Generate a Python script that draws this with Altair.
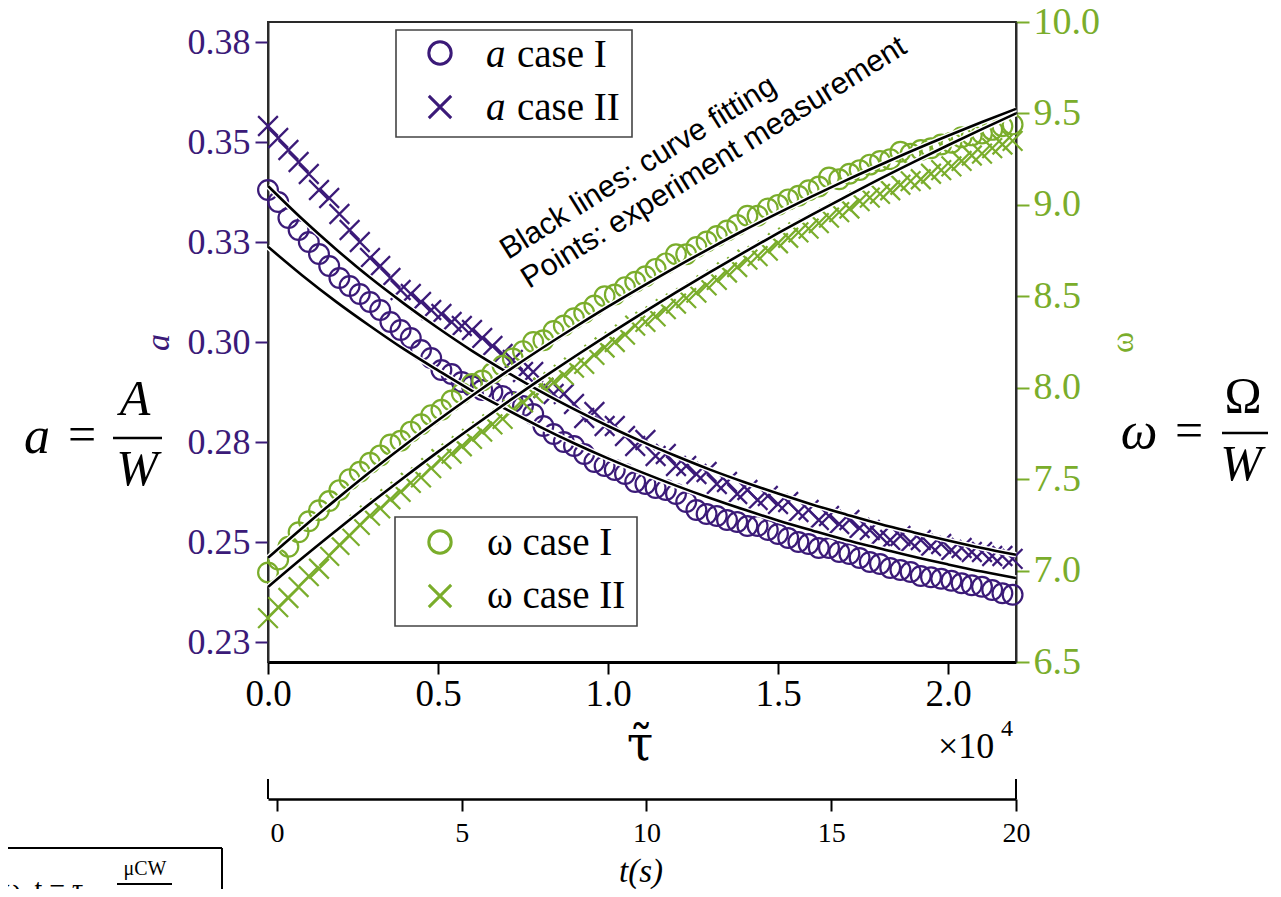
import altair as alt
import pandas as pd

PURPLE = "#3b1a78"
GREEN = "#7aad2b"
SERIF = "Liberation Serif"
SANS = "Liberation Sans"
CROSS = "M-1,-1L1,1M-1,1L1,-1"

# ---------------- data ----------------
TAU = [0, 300, 600, 900, 1200, 1500, 1800, 2100, 2400, 2700,
       3000, 3300, 3600, 3900, 4200, 4500, 4800, 5100, 5400, 5700,
       6000, 6300, 6600, 6900, 7200, 7500, 7800, 8100, 8400, 8700,
       9000, 9300, 9600, 9900, 10200, 10500, 10800, 11100, 11400, 11700,
       12000, 12300, 12600, 12900, 13200, 13500, 13800, 14100, 14400, 14700,
       15000, 15300, 15600, 15900, 16200, 16500, 16800, 17100, 17400, 17700,
       18000, 18300, 18600, 18900, 19200, 19500, 19800, 20100, 20400, 20700,
       21000, 21300, 21600, 21900]

A_CASE_I = [0.338, 0.335, 0.331, 0.328, 0.325, 0.322, 0.319, 0.316, 0.314, 0.312,
            0.310, 0.308, 0.305, 0.303, 0.301, 0.298, 0.296, 0.293, 0.292, 0.290,
            0.289, 0.288, 0.2875, 0.2865, 0.285, 0.284, 0.282, 0.279, 0.277, 0.275,
            0.274, 0.272, 0.270, 0.269, 0.268, 0.267, 0.265, 0.2645, 0.2635, 0.263,
            0.262, 0.260, 0.258, 0.257, 0.2565, 0.2555, 0.255, 0.254, 0.254, 0.253,
            0.252, 0.251, 0.250, 0.2495, 0.2485, 0.2485, 0.2475, 0.247, 0.246, 0.245,
            0.2445, 0.2435, 0.243, 0.2425, 0.2415, 0.2412, 0.2408, 0.2403, 0.2397, 0.2392,
            0.2388, 0.238, 0.2372, 0.2368]

A_CASE_II = [0.354, 0.351, 0.348, 0.345, 0.342, 0.338, 0.336, 0.332, 0.328, 0.325,
             0.321, 0.319, 0.316, 0.313, 0.312, 0.310, 0.308, 0.307, 0.305, 0.304,
             0.303, 0.301, 0.299, 0.297, 0.2955, 0.2925, 0.2925, 0.2885, 0.287, 0.287,
             0.2845, 0.281, 0.2825, 0.279, 0.279, 0.2765, 0.274, 0.2755, 0.2715, 0.272,
             0.269, 0.269, 0.267, 0.2675, 0.2645, 0.265, 0.262, 0.263, 0.2605, 0.2615,
             0.2595, 0.260, 0.2575, 0.258, 0.2555, 0.2565, 0.2545, 0.2555, 0.2535, 0.253,
             0.2515, 0.2505, 0.2515, 0.250, 0.2505, 0.249, 0.2495, 0.248, 0.2485, 0.2475,
             0.2475, 0.2465, 0.2465, 0.2458]

W_CASE_I = [6.99, 7.06, 7.13, 7.21, 7.27, 7.33, 7.38, 7.44, 7.50, 7.54,
            7.59, 7.63, 7.69, 7.71, 7.76, 7.80, 7.85, 7.88, 7.93, 7.97,
            8.02, 8.04, 8.08, 8.12, 8.16, 8.20, 8.25, 8.26, 8.31, 8.34,
            8.38, 8.41, 8.45, 8.50, 8.51, 8.55, 8.58, 8.61, 8.65, 8.68,
            8.73, 8.73, 8.77, 8.80, 8.83, 8.86, 8.89, 8.94, 8.94, 8.98,
            9.00, 9.03, 9.05, 9.08, 9.10, 9.15, 9.14, 9.17, 9.19, 9.22,
            9.24, 9.25, 9.29, 9.28, 9.30, 9.31, 9.33, 9.34, 9.37, 9.38,
            9.39, 9.41, 9.43, 9.44]

W_CASE_II = [6.74, 6.80, 6.85, 6.91, 6.97, 7.01, 7.08, 7.14, 7.19, 7.25,
             7.30, 7.34, 7.39, 7.43, 7.48, 7.51, 7.56, 7.61, 7.64, 7.68,
             7.72, 7.76, 7.80, 7.83, 7.88, 7.92, 7.97, 8.00, 8.03, 8.07,
             8.11, 8.13, 8.18, 8.22, 8.25, 8.29, 8.34, 8.36, 8.39, 8.43,
             8.46, 8.49, 8.52, 8.56, 8.59, 8.63, 8.66, 8.70, 8.72, 8.75,
             8.79, 8.82, 8.85, 8.87, 8.90, 8.93, 8.96, 8.98, 9.02, 9.04,
             9.06, 9.08, 9.11, 9.13, 9.14, 9.17, 9.19, 9.21, 9.24, 9.27,
             9.28, 9.31, 9.33, 9.35]

FIT_TAU = [0, 1000, 2000, 3000, 4000, 5000, 6000, 7000, 8000, 9000, 10000, 11000,
           12000, 13000, 14000, 15000, 16000, 17000, 18000, 19000, 20000, 21000, 22000]
A_FIT_I = [0.3238, 0.3167, 0.3101, 0.3040, 0.2982, 0.2929, 0.2878, 0.2832, 0.2788, 0.2747,
           0.2709, 0.2674, 0.2641, 0.2610, 0.2581, 0.2554, 0.2529, 0.2505, 0.2484, 0.2463,
           0.2444, 0.2426, 0.2410]
A_FIT_II = [0.3390, 0.3308, 0.3232, 0.3161, 0.3096, 0.3035, 0.2978, 0.2926, 0.2877, 0.2832,
            0.2790, 0.2751, 0.2715, 0.2681, 0.2650, 0.2621, 0.2594, 0.2569, 0.2545, 0.2524,
            0.2504, 0.2485, 0.2468]
W_FIT_I = [7.070, 7.232, 7.388, 7.539, 7.683, 7.822, 7.956, 8.085, 8.209, 8.328,
           8.443, 8.553, 8.660, 8.762, 8.861, 8.955, 9.046, 9.134, 9.218, 9.300,
           9.378, 9.453, 9.525]
W_FIT_II = [6.910, 7.067, 7.218, 7.366, 7.509, 7.649, 7.784, 7.916, 8.044, 8.168,
            8.289, 8.407, 8.521, 8.632, 8.740, 8.845, 8.946, 9.045, 9.142, 9.235,
            9.326, 9.414, 9.500]

X_TICKS = [0, 5000, 10000, 15000, 20000]
A_TICKS = [0.225, 0.25, 0.275, 0.30, 0.325, 0.35, 0.375]
W_TICKS = [6.5, 7.0, 7.5, 8.0, 8.5, 9.0, 9.5, 10.0]
T_TICKS = [0, 5, 10, 15, 20]

pts = pd.DataFrame({"tau": TAU, "a1": A_CASE_I, "a2": A_CASE_II,
                    "w1": W_CASE_I, "w2": W_CASE_II})
fits = pd.DataFrame({"tau": FIT_TAU, "a1": A_FIT_I, "a2": A_FIT_II,
                     "w1": W_FIT_I, "w2": W_FIT_II})
tdf = pd.DataFrame({"t": T_TICKS})
ONE = pd.DataFrame({"k": [0]})

X_SCALE = alt.Scale(domain=[0, 22000], nice=False, zero=False)
A_SCALE = alt.Scale(domain=[0.22, 0.38], nice=False, zero=False)
W_SCALE = alt.Scale(domain=[6.5, 10.0], nice=False, zero=False)
T_SCALE = alt.Scale(domain=[-0.243, 20], nice=False, zero=False)

x_axis = alt.Axis(values=X_TICKS, labelExpr="format(datum.value / 10000, '.1f')",
                  title=None, orient="bottom", tickSize=12, tickWidth=2, tickColor="black",
                  domainColor="black", domainWidth=3, labelFont=SERIF, labelFontSize=37,
                  labelColor="black", labelPadding=2, grid=False, labelFlush=False,
                  labelOverlap=False)
a_axis = alt.Axis(values=A_TICKS, format=".2f", orient="left", tickSize=13, tickWidth=2,
                  tickColor=PURPLE, domainColor="#2a2a2a", domainWidth=2,
                  labelFont=SERIF, labelFontSize=36, labelColor=PURPLE, labelPadding=5,
                  title="a", titleColor=PURPLE, titleFont=SERIF, titleFontStyle="italic",
                  titleFontSize=34, titleFontWeight="normal", titlePadding=12,
                  grid=False, labelFlush=False, labelOverlap=False)
w_axis = alt.Axis(values=W_TICKS, format=".1f", orient="right", tickSize=13, tickWidth=2,
                  tickColor=GREEN, domainColor="#2a2a2a", domainWidth=2,
                  labelFont=SERIF, labelFontSize=38, labelColor=GREEN, labelPadding=4,
                  title="ω", titleColor=GREEN, titleFont=SERIF, titleFontSize=32,
                  titleFontWeight="normal", titlePadding=40, titleAngle=270,
                  grid=False, labelFlush=False, labelOverlap=False)
t_axis = alt.Axis(values=T_TICKS, format="d", orient="bottom", offset=137, tickSize=12,
                  tickWidth=2, tickColor="black", domainColor="black", domainWidth=2.5,
                  labelFont=SERIF, labelFontSize=28, labelColor="black", labelPadding=8,
                  title=None, grid=False, labelFlush=False, labelOverlap=False)


def xenc(axis=None):
    return alt.X("tau:Q", scale=X_SCALE, axis=axis)


def points(field, scale, axis, shape, color):
    return alt.Chart(pts).mark_point(
        shape=shape, filled=False, size=390, strokeWidth=2.2, color=color, opacity=1
    ).encode(x=xenc(x_axis if field == "a1" else None),
             y=alt.Y(f"{field}:Q", scale=scale, axis=axis))


def fitline(field, scale, color, width):
    return alt.Chart(fits).mark_line(color=color, strokeWidth=width, interpolate="monotone").encode(
        x=xenc(), y=alt.Y(f"{field}:Q", scale=scale, axis=None))


def text(t, x, y, size, font=SERIF, style="normal", align="left", angle=0, color="black"):
    kw = dict(text=t, font=font, fontSize=size, fontStyle=style, align=align,
              baseline="alphabetic", color=color)
    if angle:
        kw["angle"] = angle
    return alt.Chart(ONE).mark_text(**kw).encode(x=alt.value(x), y=alt.value(y))


def hrule(x1, x2, y, w=2, color="black"):
    return alt.Chart(ONE).mark_rule(color=color, strokeWidth=w).encode(
        x=alt.value(x1), x2=alt.value(x2), y=alt.value(y))


def vrule(x, y1, y2, w=2, color="black"):
    return alt.Chart(ONE).mark_rule(color=color, strokeWidth=w).encode(
        x=alt.value(x), y=alt.value(y1), y2=alt.value(y2))


def box(x1, x2, y1, y2):
    return alt.Chart(ONE).mark_rect(fill="white", stroke="#444", strokeWidth=1.6).encode(
        x=alt.value(x1), x2=alt.value(x2), y=alt.value(y1), y2=alt.value(y2))


def marker(x, y, shape, color):
    return alt.Chart(ONE).mark_point(shape=shape, filled=False, size=500, strokeWidth=3,
                                     color=color, opacity=1).encode(
        x=alt.value(x), y=alt.value(y))


layers = [
    points("a1", A_SCALE, a_axis, "circle", PURPLE),
    points("a2", A_SCALE, None, CROSS, PURPLE),
    points("w1", W_SCALE, w_axis, "circle", GREEN),
    points("w2", W_SCALE, None, CROSS, GREEN),
]
for f, s in [("a1", A_SCALE), ("a2", A_SCALE), ("w1", W_SCALE), ("w2", W_SCALE)]:
    layers.append(fitline(f, s, "white", 5.5))
    layers.append(fitline(f, s, "black", 2.6))

# second (time) axis
layers.append(alt.Chart(tdf).mark_point(opacity=0).encode(
    x=alt.X("t:Q", scale=T_SCALE, axis=t_axis), y=alt.value(0)))
layers += [vrule(0, 757, 777, 2), vrule(748, 757, 777, 2)]

# legends
layers += [
    box(128, 364, 8, 115),
    marker(172, 31, "circle", PURPLE), marker(172, 85, CROSS, PURPLE),
    text("a", 218, 45, 39, style="italic"), text("case I", 249, 45, 39),
    text("a", 218, 98, 39, style="italic"), text("case II", 249, 98, 39),
    box(127, 369, 495, 604),
    marker(172, 520, "circle", GREEN), marker(172, 574, CROSS, GREEN),
    text("ω case I", 219, 533, 39), text("ω case II", 219, 586, 39),
]

# annotation
layers += [
    text("Black lines: curve fitting", 240, 238, 30.5, font=SANS, angle=328),
    text("Points: experiment measurement", 261, 267, 30.5, font=SANS, angle=328),
]

# axis captions
layers += [
    text("τ̃", 372, 738, 48, font="DejaVu Serif", align="center"),
    text("×10", 670, 736, 36),
    text("4", 733, 714, 24),
    text("t(s)", 373, 860, 33, style="italic", align="center"),
]

# side formulas
layers += [
    text("a", -231, 431, 52, style="italic", align="center"),
    text("=", -186, 429, 50, align="center"),
    text("A", -133, 393, 50, style="italic", align="center"),
    hrule(-155, -106, 416, 2.5),
    text("W", -131, 463, 50, style="italic", align="center"),
    text("ω", 871, 426, 52, style="italic", align="center"),
    text("=", 921, 425, 50, align="center"),
    text("Ω", 975, 390, 50, align="center"),
    hrule(954, 1000, 411, 2.5),
    text("W", 973, 458, 50, style="italic", align="center"),
]

# cropped caption box at bottom-left
layers += [
    hrule(-262, -46, 826, 2),
    vrule(-46, 826, 880, 2),
    text("μCW", -123, 853, 20, align="center"),
    hrule(-151, -96, 862, 2),
    text("ω,  t = τ", -266, 876, 28),
]

chart = alt.layer(*layers).resolve_scale(x="independent", y="independent").properties(
    width=748, height=640,
    autosize=alt.AutoSizeParams(type="none"),
    padding={"left": 260, "top": 14, "right": 257, "bottom": 227},
).configure_view(stroke="#2a2a2a", strokeWidth=2)

chart.save("out.html", embed_options={"renderer": "svg", "actions": False})
